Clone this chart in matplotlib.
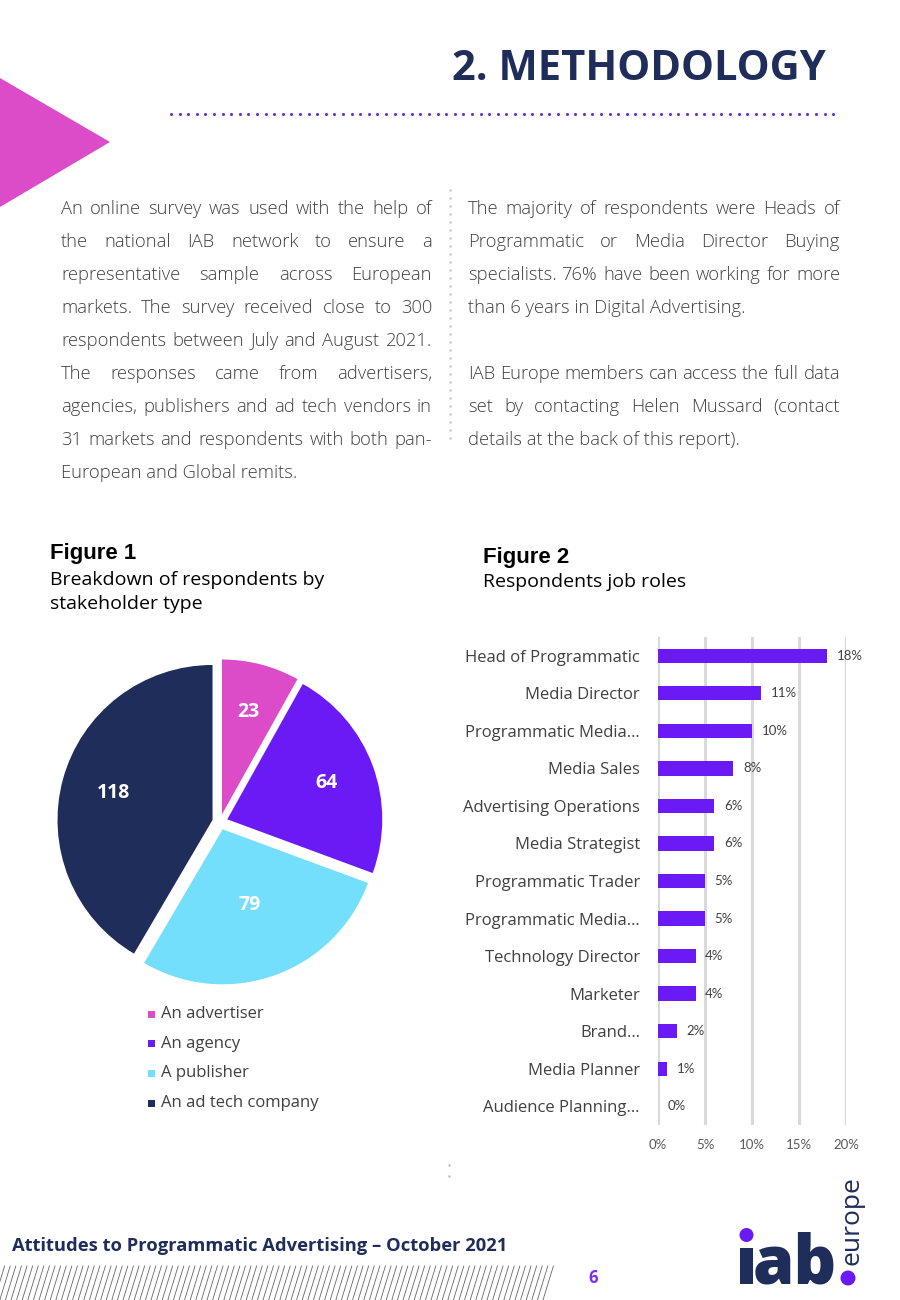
import numpy as np
import matplotlib
matplotlib.use("Agg")
import matplotlib.pyplot as plt
from matplotlib.patches import Polygon, Rectangle, Circle

# ---- data -----------------------------------------------------------------
stakeholders = ["An advertiser", "An agency", "A publisher", "An ad tech company"]
stakeholder_counts = [23, 64, 79, 118]

job_roles = ["Head of Programmatic", "Media Director", "Programmatic Media\u2026",
             "Media Sales", "Advertising Operations", "Media Strategist",
             "Programmatic Trader", "Programmatic Media\u2026", "Technology Director",
             "Marketer", "Brand\u2026", "Media Planner", "Audience Planning\u2026"]
job_share = [18, 11, 10, 8, 6, 6, 5, 5, 4, 4, 2, 1, 0]
x_ticks = [0, 5, 10, 15, 20]

left_lines = ["An online survey was used with the help of",
              "the national IAB network to ensure a",
              "representative sample across European",
              "markets. The survey received close to 300",
              "respondents between July and August 2021.",
              "The responses came from advertisers,",
              "agencies, publishers and ad tech vendors  in",
              "31 markets and respondents with both pan-",
              "European and Global remits."]
right_lines = ["The majority of respondents were Heads of",
               "Programmatic or Media Director Buying",
               "specialists. 76% have been working for more",
               "than 6 years in Digital Advertising.",
               "",
               "IAB Europe members can access the full data",
               "set by contacting Helen Mussard (contact",
               "details at the back of this report)."]

# ---- style -----------------------------------------------------------------
NAVY = "#1f2d5a"
MAGENTA = "#dc4bc8"
VIOLET = "#6a1bf5"
CYAN = "#74dffc"
GREY_TXT = "#404040"
pie_colors = [MAGENTA, VIOLET, CYAN, NAVY]
label_radius = [0.68, 0.68, 0.52, 0.66]

W, H = 900, 1300
fig = plt.figure(figsize=(W / 100, H / 100), dpi=100)
bg = fig.add_axes([0, 0, 1, 1])
bg.set_xlim(0, W)
bg.set_ylim(H, 0)
bg.axis("off")


def px_rect(left, top, width, height):
    return [left / W, (H - top - height) / H, width / W, height / H]


# header
bg.add_patch(Polygon([(0, 78), (110, 142), (0, 207)], closed=True, color=MAGENTA, lw=0))
bg.text(826, 70, "2. METHODOLOGY", ha="right", va="center", fontsize=30,
        family="Open Sans", weight="bold", color=NAVY)
dots_x = np.arange(171, 836, 8.6)
bg.scatter(dots_x, np.full_like(dots_x, 114), s=5, color="#6a35d0", lw=0)

# separator dots between columns
sep_y = np.arange(190, 446, 8)
bg.scatter(np.full_like(sep_y, 450), sep_y, s=4, color="#cfcfcf", lw=0)

# justified body text
renderer = fig.canvas.get_renderer()
body_kw = dict(fontsize=13.2, family="Open Sans", weight="light", color=GREY_TXT, va="center")


def justified(lines, x0, x1, y0, step, last_left):
    for i, line in enumerate(lines):
        y = y0 + i * step
        if not line:
            continue
        words = line.split()
        if i in last_left or len(words) == 1:
            bg.text(x0, y, line, ha="left", **body_kw)
            continue
        widths = []
        for w in words:
            t = bg.text(0, 0, w, **body_kw)
            widths.append(t.get_window_extent(renderer).width)
            t.remove()
        gap = (x1 - x0 - sum(widths)) / (len(words) - 1)
        x = x0
        for w, wd in zip(words, widths):
            bg.text(x, y, w, ha="left", **body_kw)
            x += wd + gap


justified(left_lines, 61, 432, 209, 33, {8})
justified(right_lines, 468, 840, 209, 33, {3, 7})

# figure titles
bg.text(50, 553, "Figure 1", fontsize=16, family="Liberation Sans", weight="bold",
        color="black", va="center")
bg.text(50, 580, "Breakdown of respondents by", fontsize=14, family="Open Sans",
        color="black", va="center")
bg.text(50, 604, "stakeholder type", fontsize=14, family="Open Sans",
        color="black", va="center")
bg.text(483, 557, "Figure 2", fontsize=16, family="Liberation Sans", weight="bold",
        color="black", va="center")
bg.text(483, 582, "Respondents job roles", fontsize=14, family="Open Sans",
        color="black", va="center")

# ---- Figure 1: pie ---------------------------------------------------------
R = 155
S = R * 2.6
ax_pie = fig.add_axes(px_rect(220 - S / 2, 822 - S / 2, S, S))
wedges, _ = ax_pie.pie(stakeholder_counts, colors=pie_colors, startangle=90,
                       counterclock=False, explode=[0.05] * 4,
                       wedgeprops=dict(lw=0))
ax_pie.set_xlim(-1.3, 1.3)
ax_pie.set_ylim(-1.3, 1.3)
ax_pie.set_aspect("equal")
for wdg, val, r in zip(wedges, stakeholder_counts, label_radius):
    ang = np.deg2rad((wdg.theta1 + wdg.theta2) / 2)
    cx, cy = wdg.center
    ax_pie.text(cx + r * np.cos(ang), cy + r * np.sin(ang), str(val),
                ha="center", va="center", color="white", fontsize=14,
                family="Open Sans", weight="bold")

# legend
for i, (name, col) in enumerate(zip(stakeholders, pie_colors)):
    y = 1014 + i * 29.7
    bg.add_patch(Rectangle((148, y - 3.5), 7, 7, color=col, lw=0))
    bg.text(161, y, name, fontsize=12, family="Open Sans", color=GREY_TXT, va="center")

# ---- Figure 2: bars --------------------------------------------------------
ax_bar = fig.add_axes(px_rect(658, 637, 188, 488))
ypos = np.arange(len(job_roles))
ax_bar.barh(ypos, job_share, height=0.38, color=VIOLET, zorder=3)
ax_bar.set_xlim(0, 20)
ax_bar.set_ylim(len(job_roles) - 0.5, -0.5)
ax_bar.set_xticks(x_ticks)
ax_bar.set_xticklabels([f"{t}%" for t in x_ticks], family="Lato", fontsize=9.5,
                       color="#595959")
ax_bar.set_yticks(ypos)
ax_bar.set_yticklabels(job_roles, family="Open Sans", fontsize=12, color=GREY_TXT)
ax_bar.tick_params(length=0)
ax_bar.tick_params(axis="y", pad=13)
ax_bar.tick_params(axis="x", pad=10)
for sp in ax_bar.spines.values():
    sp.set_visible(False)
ax_bar.grid(axis="x", color="#d9d9d9", lw=2.2, zorder=0)
ax_bar.set_axisbelow(True)
ax_bar.patch.set_alpha(0)
for y, v in zip(ypos, job_share):
    ax_bar.annotate(f"{v}%", (v, y), xytext=(7, 0), textcoords="offset points",
                    ha="left", va="center", fontsize=9.5, family="Lato", color=GREY_TXT)

bg.scatter([449, 449], [1165, 1176], s=3, color="#bbbbbb", lw=0)

# ---- footer ----------------------------------------------------------------
bg.text(12, 1246, "Attitudes to Programmatic Advertising \u2013 October 2021",
        fontsize=13.2, family="Open Sans", weight="bold", color=NAVY, va="center")
for x0 in np.arange(-12, 548, 5.6):
    bg.plot([x0, x0 + 11], [1302, 1266], color="#666666", lw=0.6)
bg.text(593, 1278, "6", fontsize=12, family="Open Sans", weight="bold",
        color="#7b2ff0", ha="center", va="center")

# logo
bg.add_patch(Rectangle((740, 1248), 13, 36, color=NAVY, lw=0))
bg.add_patch(Circle((746.5, 1235), 7, color=VIOLET, lw=0))
bg.text(753, 1284, "ab", fontsize=48, family="Open Sans", weight="heavy",
        color=NAVY, ha="left", va="baseline")
bg.add_patch(Circle((848, 1278), 7.5, color=VIOLET, lw=0))
bg.text(852, 1265, "europe", fontsize=19, family="Open Sans", color=NAVY,
        rotation=90, ha="center", va="bottom")

fig.savefig("out.png", dpi=100)
